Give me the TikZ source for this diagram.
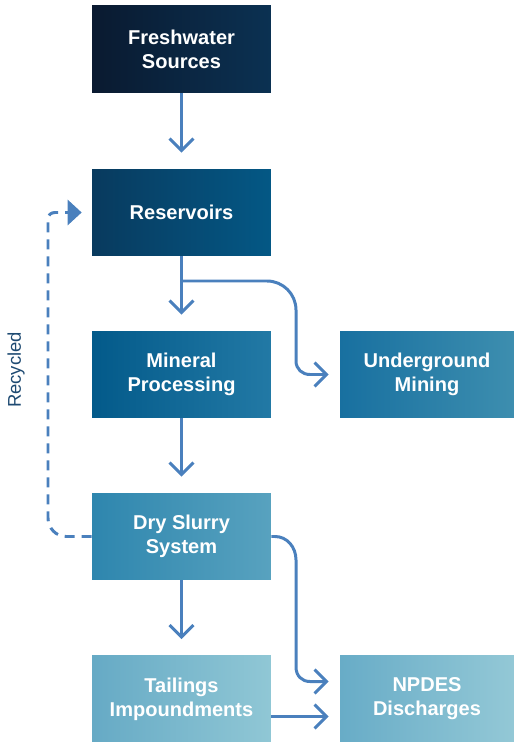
\documentclass[tikz,border=0pt]{standalone}
\usepackage{fontspec}
\setmainfont{Liberation Sans}
\usetikzlibrary{arrows.meta,calc}
\definecolor{flowblue}{HTML}{4A80BD}
\definecolor{recyctext}{HTML}{1E4A72}
\definecolor{freshL}{HTML}{0A1A30}
\definecolor{freshR}{HTML}{0B3152}
\definecolor{resL}{HTML}{083A5E}
\definecolor{resR}{HTML}{045885}
\definecolor{minL}{HTML}{035A8A}
\definecolor{minR}{HTML}{2279A5}
\definecolor{undL}{HTML}{1870A0}
\definecolor{undR}{HTML}{3D8EAF}
\definecolor{dryL}{HTML}{2E86AE}
\definecolor{dryR}{HTML}{58A2BF}
\definecolor{tailL}{HTML}{66AAC5}
\definecolor{tailR}{HTML}{90C7D5}
\definecolor{npdL}{HTML}{68ACC7}
\definecolor{npdR}{HTML}{93C8D6}
\begin{document}
\begin{tikzpicture}[x=0.02cm,y=-0.02cm]
\tikzstyle{box}=[minimum width=3.58cm, minimum height=1.74cm, inner sep=0pt, align=center, text=white, font=\fontsize{11.4}{13.6}\selectfont\bfseries]
\tikzstyle{flow}=[draw=flowblue, line width=1.7pt, -{Straight Barb[length=0.24cm,width=0.48cm]}]
\tikzstyle{recyc}=[draw=flowblue, line width=1.7pt, dash pattern=on 0.2cm off 0.14cm, -{Triangle[length=0.28cm,width=0.5cm]}]
\useasboundingbox (0,0) rectangle (514,742);
\node[box, left color=freshL, right color=freshR] (fresh) at (181.5,49.5) {Freshwater\\Sources};
\node[box, left color=resL, right color=resR] (res) at (181.5,212.5) {Reservoirs};
\node[box, left color=minL, right color=minR] (mineral) at (181.5,374.5) {Mineral\\Processing};
\node[box, minimum width=3.48cm, left color=undL, right color=undR] (under) at (427,374.5) {Underground\\Mining};
\node[box, left color=dryL, right color=dryR] (dry) at (181.5,536.5) {Dry Slurry\\System};
\node[box, left color=tailL, right color=tailR] (tail) at (181.5,699) {Tailings\\Impoundments};
\node[box, minimum width=3.48cm, left color=npdL, right color=npdR] (npdes) at (427,699) {NPDES\\Discharges};
\node[rotate=90, text=recyctext, font=\fontsize{10.5}{12}\selectfont] (lbl) at (16,370) {Recycled};
\coordinate (split) at (181.5,281);
\draw[flow, shorten >=0.32cm] (fresh) -- (res);
\draw[flow, shorten >=0.32cm] (res) -- (mineral);
\draw[flow] (split) -- (267,281) .. controls (283,281) and (296,294) .. (296,310) -- (296,361) .. controls (296,369) and (302,374.5) .. (310,374.5) -- ([xshift=-0.22cm]under.west);
\draw[flow, shorten >=0.32cm] (mineral) -- (dry);
\draw[flow, shorten >=0.32cm] (dry) -- (tail);
\draw[flow] (dry.east) -- (275,536.5) .. controls (287,536.5) and (296,547) .. (296,560) -- (296,667) .. controls (296,676) and (302,681.5) .. (310,681.5) -- ($(npdes.west)+(-11,-17.5)$);
\draw[flow] ($(tail.east)+(0,17.5)$) -- ($(npdes.west)+(-11,17.5)$);
\draw[recyc] (dry.west) -- (66,536.5) .. controls (56,536.5) and (48,528) .. (48,518) -- (48,219) .. controls (48,215) and (51,212.5) .. (55,212.5) -- ([xshift=-0.2cm]res.west);
\end{tikzpicture}
\end{document}
